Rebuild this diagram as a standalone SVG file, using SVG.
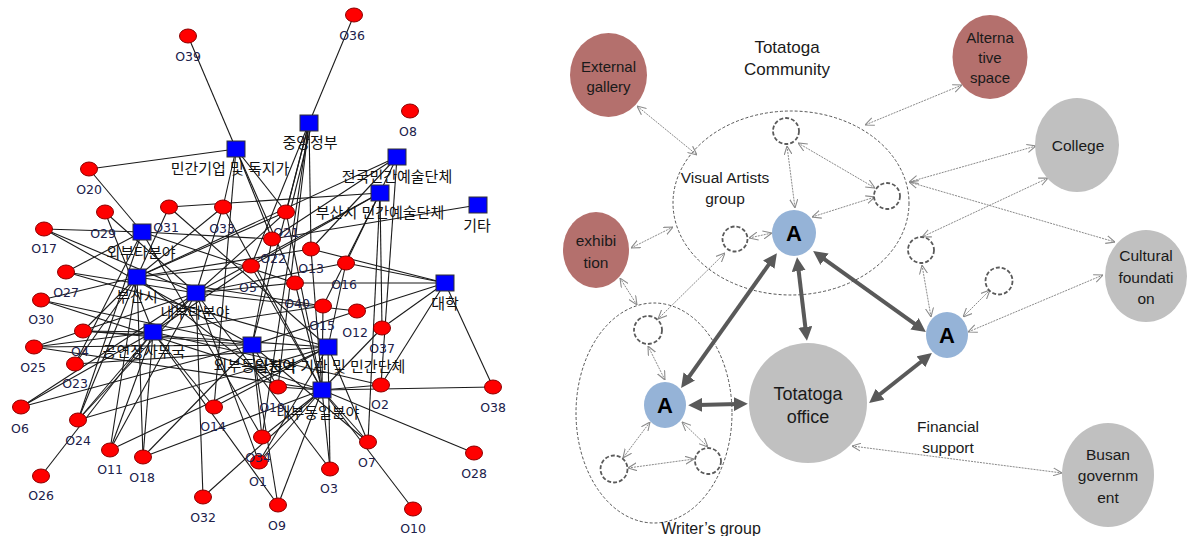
<svg xmlns="http://www.w3.org/2000/svg" width="1188" height="536" viewBox="0 0 1188 536">
<style>
.e{stroke:#1a1a1a;stroke-width:1.1;fill:none}
.rc{fill:#ff0000;stroke:#8b0000;stroke-width:1}
.sq{fill:#0000ff;stroke:#333;stroke-width:1}
.ol{font-family:"DejaVu Sans",sans-serif;font-size:12.5px;fill:#20204a;text-anchor:middle}
.kl{font-family:"Liberation Sans","Noto Sans CJK KR",sans-serif;font-size:15px;fill:#111;text-anchor:middle}
.t{font-family:"Liberation Sans",sans-serif;fill:#1a1a1a;text-anchor:middle}
.thin{stroke:#8a8a8a;stroke-width:1;stroke-dasharray:2 1;fill:none;marker-start:url(#ao);marker-end:url(#ao)}
.thick{stroke:#595959;stroke-width:4;fill:none;marker-start:url(#af);marker-end:url(#af)}
.grp{fill:none;stroke:#555;stroke-width:1;stroke-dasharray:3 2}
.sm{fill:#fff;stroke:#5a5a5a;stroke-width:1.8;stroke-dasharray:4 2}
.ext{fill:#b4706d}
.gry{fill:#c0c0c0}
.a{fill:#95b3d7}
.al{font-family:"Liberation Sans",sans-serif;font-weight:900;font-size:22px;fill:#000;text-anchor:middle}
</style>
<defs>
<marker id="ao" viewBox="0 0 10 10" refX="10" refY="5" markerWidth="9" markerHeight="9" markerUnits="userSpaceOnUse" orient="auto-start-reverse"><path d="M0,0.5 L10,5 L0,9.5" fill="none" stroke="#8a8a8a" stroke-width="1.2"/></marker>
<marker id="af" viewBox="0 0 10 10" refX="3" refY="5" markerWidth="14" markerHeight="14" markerUnits="userSpaceOnUse" orient="auto-start-reverse"><path d="M0,0 L10,5 L0,10 z" fill="#595959"/></marker>
</defs>
<rect width="1188" height="536" fill="#fff"/>

<g id="left-edges">
<line class="e" x1="188" y1="36" x2="236" y2="149"/>
<line class="e" x1="354" y1="15" x2="309" y2="123"/>
<line class="e" x1="89" y1="169" x2="236" y2="149"/>
<line class="e" x1="89" y1="169" x2="142" y2="232"/>
<line class="e" x1="105" y1="212" x2="196" y2="293"/>
<line class="e" x1="105" y1="212" x2="153" y2="332"/>
<line class="e" x1="44" y1="229" x2="142" y2="232"/>
<line class="e" x1="44" y1="229" x2="196" y2="293"/>
<line class="e" x1="44" y1="229" x2="252" y2="345"/>
<line class="e" x1="169" y1="207" x2="137" y2="277"/>
<line class="e" x1="169" y1="207" x2="328" y2="347"/>
<line class="e" x1="169" y1="207" x2="380" y2="193"/>
<line class="e" x1="223" y1="207" x2="236" y2="149"/>
<line class="e" x1="223" y1="207" x2="196" y2="293"/>
<line class="e" x1="223" y1="207" x2="322" y2="390"/>
<line class="e" x1="223" y1="207" x2="137" y2="277"/>
<line class="e" x1="286" y1="212" x2="236" y2="149"/>
<line class="e" x1="286" y1="212" x2="309" y2="123"/>
<line class="e" x1="290" y1="212" x2="312" y2="123"/>
<line class="e" x1="286" y1="212" x2="137" y2="277"/>
<line class="e" x1="286" y1="212" x2="153" y2="332"/>
<line class="e" x1="286" y1="212" x2="322" y2="390"/>
<line class="e" x1="272" y1="239" x2="236" y2="149"/>
<line class="e" x1="272" y1="239" x2="142" y2="232"/>
<line class="e" x1="272" y1="239" x2="478" y2="205"/>
<line class="e" x1="272" y1="239" x2="252" y2="345"/>
<line class="e" x1="272" y1="239" x2="397" y2="157"/>
<line class="e" x1="311" y1="249" x2="309" y2="123"/>
<line class="e" x1="311" y1="249" x2="445" y2="283"/>
<line class="e" x1="311" y1="249" x2="137" y2="277"/>
<line class="e" x1="311" y1="249" x2="322" y2="390"/>
<line class="e" x1="311" y1="249" x2="397" y2="157"/>
<line class="e" x1="346" y1="263" x2="397" y2="157"/>
<line class="e" x1="346" y1="263" x2="445" y2="283"/>
<line class="e" x1="346" y1="263" x2="196" y2="293"/>
<line class="e" x1="346" y1="263" x2="328" y2="347"/>
<line class="e" x1="251" y1="266" x2="309" y2="123"/>
<line class="e" x1="251" y1="266" x2="380" y2="193"/>
<line class="e" x1="251" y1="266" x2="137" y2="277"/>
<line class="e" x1="251" y1="266" x2="153" y2="332"/>
<line class="e" x1="251" y1="266" x2="322" y2="390"/>
<line class="e" x1="295" y1="283" x2="445" y2="283"/>
<line class="e" x1="295" y1="283" x2="142" y2="232"/>
<line class="e" x1="295" y1="283" x2="196" y2="293"/>
<line class="e" x1="295" y1="283" x2="322" y2="390"/>
<line class="e" x1="295" y1="283" x2="236" y2="149"/>
<line class="e" x1="323" y1="306" x2="380" y2="193"/>
<line class="e" x1="323" y1="306" x2="153" y2="332"/>
<line class="e" x1="323" y1="306" x2="322" y2="390"/>
<line class="e" x1="323" y1="306" x2="137" y2="277"/>
<line class="e" x1="357" y1="311" x2="445" y2="283"/>
<line class="e" x1="357" y1="311" x2="196" y2="293"/>
<line class="e" x1="357" y1="311" x2="252" y2="345"/>
<line class="e" x1="382" y1="328" x2="445" y2="283"/>
<line class="e" x1="382" y1="328" x2="322" y2="390"/>
<line class="e" x1="382" y1="328" x2="380" y2="193"/>
<line class="e" x1="66" y1="272" x2="142" y2="232"/>
<line class="e" x1="66" y1="272" x2="196" y2="293"/>
<line class="e" x1="66" y1="272" x2="328" y2="347"/>
<line class="e" x1="41" y1="300" x2="137" y2="277"/>
<line class="e" x1="41" y1="300" x2="252" y2="345"/>
<line class="e" x1="41" y1="300" x2="322" y2="390"/>
<line class="e" x1="83" y1="331" x2="153" y2="332"/>
<line class="e" x1="83" y1="331" x2="252" y2="345"/>
<line class="e" x1="83" y1="331" x2="137" y2="277"/>
<line class="e" x1="83" y1="331" x2="328" y2="347"/>
<line class="e" x1="34" y1="347" x2="153" y2="332"/>
<line class="e" x1="34" y1="347" x2="252" y2="345"/>
<line class="e" x1="34" y1="347" x2="322" y2="390"/>
<line class="e" x1="34" y1="347" x2="196" y2="293"/>
<line class="e" x1="75" y1="364" x2="137" y2="277"/>
<line class="e" x1="75" y1="364" x2="142" y2="232"/>
<line class="e" x1="75" y1="364" x2="328" y2="347"/>
<line class="e" x1="21" y1="407" x2="153" y2="332"/>
<line class="e" x1="21" y1="407" x2="196" y2="293"/>
<line class="e" x1="21" y1="407" x2="252" y2="345"/>
<line class="e" x1="78" y1="420" x2="137" y2="277"/>
<line class="e" x1="78" y1="420" x2="153" y2="332"/>
<line class="e" x1="78" y1="420" x2="142" y2="232"/>
<line class="e" x1="78" y1="420" x2="328" y2="347"/>
<line class="e" x1="78" y1="420" x2="196" y2="293"/>
<line class="e" x1="41" y1="476" x2="153" y2="332"/>
<line class="e" x1="110" y1="450" x2="137" y2="277"/>
<line class="e" x1="110" y1="450" x2="196" y2="293"/>
<line class="e" x1="110" y1="450" x2="328" y2="347"/>
<line class="e" x1="110" y1="450" x2="153" y2="332"/>
<line class="e" x1="143" y1="457" x2="137" y2="277"/>
<line class="e" x1="143" y1="457" x2="153" y2="332"/>
<line class="e" x1="143" y1="457" x2="322" y2="390"/>
<line class="e" x1="143" y1="457" x2="252" y2="345"/>
<line class="e" x1="203" y1="497" x2="196" y2="293"/>
<line class="e" x1="203" y1="497" x2="322" y2="390"/>
<line class="e" x1="214" y1="407" x2="153" y2="332"/>
<line class="e" x1="214" y1="407" x2="328" y2="347"/>
<line class="e" x1="214" y1="407" x2="236" y2="149"/>
<line class="e" x1="278" y1="387" x2="322" y2="390"/>
<line class="e" x1="278" y1="387" x2="252" y2="345"/>
<line class="e" x1="278" y1="387" x2="309" y2="123"/>
<line class="e" x1="278" y1="387" x2="137" y2="277"/>
<line class="e" x1="381" y1="385" x2="322" y2="390"/>
<line class="e" x1="381" y1="385" x2="445" y2="283"/>
<line class="e" x1="381" y1="385" x2="397" y2="157"/>
<line class="e" x1="381" y1="385" x2="153" y2="332"/>
<line class="e" x1="262" y1="437" x2="252" y2="345"/>
<line class="e" x1="262" y1="437" x2="322" y2="390"/>
<line class="e" x1="262" y1="437" x2="142" y2="232"/>
<line class="e" x1="262" y1="437" x2="309" y2="123"/>
<line class="e" x1="259" y1="462" x2="196" y2="293"/>
<line class="e" x1="259" y1="462" x2="322" y2="390"/>
<line class="e" x1="259" y1="462" x2="328" y2="347"/>
<line class="e" x1="278" y1="505" x2="322" y2="390"/>
<line class="e" x1="278" y1="505" x2="153" y2="332"/>
<line class="e" x1="278" y1="505" x2="252" y2="345"/>
<line class="e" x1="330" y1="469" x2="322" y2="390"/>
<line class="e" x1="330" y1="469" x2="328" y2="347"/>
<line class="e" x1="330" y1="469" x2="196" y2="293"/>
<line class="e" x1="368" y1="442" x2="322" y2="390"/>
<line class="e" x1="368" y1="442" x2="328" y2="347"/>
<line class="e" x1="368" y1="442" x2="252" y2="345"/>
<line class="e" x1="368" y1="442" x2="380" y2="193"/>
<line class="e" x1="413" y1="509" x2="322" y2="390"/>
<line class="e" x1="474" y1="453" x2="322" y2="390"/>
<line class="e" x1="493" y1="387" x2="322" y2="390"/>
<line class="e" x1="493" y1="387" x2="445" y2="283"/>
<line class="e" x1="397" y1="157" x2="137" y2="277"/>
<line class="e" x1="309" y1="123" x2="252" y2="345"/>
<line class="e" x1="380" y1="193" x2="196" y2="293"/>
</g>

<g id="left-squares">
<g id="s1"><rect class="sq" x="227" y="141" width="18" height="16"/><text class="kl" x="230" y="174">민간기업 및 독지가</text></g>
<g id="s2"><rect class="sq" x="300" y="115" width="18" height="16"/><text class="kl" x="310" y="148">중앙정부</text></g>
<g id="s3"><rect class="sq" x="388" y="149" width="18" height="16"/><text class="kl" x="397" y="182">전국민간예술단체</text></g>
<g id="s4"><rect class="sq" x="371" y="185" width="18" height="16"/><text class="kl" x="380" y="218">부산시 민간예술단체</text></g>
<g id="s5"><rect class="sq" x="469" y="197" width="18" height="16"/><text class="kl" x="477" y="231">기타</text></g>
<g id="s6"><rect class="sq" x="436" y="275" width="18" height="16"/><text class="kl" x="445" y="309">대학</text></g>
<g id="s7"><rect class="sq" x="133" y="224" width="18" height="16"/><text class="kl" x="141" y="258">외부타분야</text></g>
<g id="s8"><rect class="sq" x="128" y="269" width="18" height="16"/><text class="kl" x="137" y="302">부산시</text></g>
<g id="s9"><rect class="sq" x="187" y="285" width="18" height="16"/><text class="kl" x="195" y="318">내부타분야</text></g>
<g id="s10"><rect class="sq" x="144" y="324" width="18" height="16"/><text class="kl" x="144" y="357">공연장사무국</text></g>
<g id="s11"><rect class="sq" x="243" y="337" width="18" height="16"/><text class="kl" x="255" y="371">외부동일분야</text></g>
<g id="s12"><rect class="sq" x="319" y="339" width="18" height="16"/><text class="kl" x="330" y="372">타지역 기관 및 민간단체</text></g>
<g id="s13"><rect class="sq" x="313" y="382" width="18" height="16"/><text class="kl" x="318" y="418">내부동일분야</text></g>
</g>

<g id="left-circles">
<g id="o39"><ellipse class="rc" cx="188" cy="36" rx="8.5" ry="7"/><text class="ol" x="188" y="61">O39</text></g>
<g id="o36"><ellipse class="rc" cx="354" cy="15" rx="8.5" ry="7"/><text class="ol" x="352" y="40">O36</text></g>
<g id="o8"><ellipse class="rc" cx="410" cy="111" rx="8.5" ry="7"/><text class="ol" x="408" y="136">O8</text></g>
<g id="o20"><ellipse class="rc" cx="89" cy="169" rx="8.5" ry="7"/><text class="ol" x="89" y="194">O20</text></g>
<g id="o29"><ellipse class="rc" cx="105" cy="212" rx="8.5" ry="7"/><text class="ol" x="103" y="238">O29</text></g>
<g id="o17"><ellipse class="rc" cx="44" cy="229" rx="8.5" ry="7"/><text class="ol" x="44" y="253">O17</text></g>
<g id="o31"><ellipse class="rc" cx="169" cy="207" rx="8.5" ry="7"/><text class="ol" x="166" y="232">O31</text></g>
<g id="o33"><ellipse class="rc" cx="223" cy="207" rx="8.5" ry="7"/><text class="ol" x="222" y="233">O33</text></g>
<g id="o21"><ellipse class="rc" cx="286" cy="212" rx="8.5" ry="7"/><text class="ol" x="286" y="237">O21</text></g>
<g id="o22"><ellipse class="rc" cx="272" cy="239" rx="8.5" ry="7"/><text class="ol" x="273" y="263">O22</text></g>
<g id="o13"><ellipse class="rc" cx="311" cy="249" rx="8.5" ry="7"/><text class="ol" x="311" y="273">O13</text></g>
<g id="o16"><ellipse class="rc" cx="346" cy="263" rx="8.5" ry="7"/><text class="ol" x="344" y="289">O16</text></g>
<g id="o5"><ellipse class="rc" cx="251" cy="266" rx="8.5" ry="7"/><text class="ol" x="248" y="292">O5</text></g>
<g id="o40"><ellipse class="rc" cx="295" cy="283" rx="8.5" ry="7"/><text class="ol" x="297" y="308">O40</text></g>
<g id="o15"><ellipse class="rc" cx="323" cy="306" rx="8.5" ry="7"/><text class="ol" x="322" y="330">O15</text></g>
<g id="o12"><ellipse class="rc" cx="357" cy="311" rx="8.5" ry="7"/><text class="ol" x="355" y="337">O12</text></g>
<g id="o37"><ellipse class="rc" cx="382" cy="328" rx="8.5" ry="7"/><text class="ol" x="382" y="353">O37</text></g>
<g id="o27"><ellipse class="rc" cx="66" cy="272" rx="8.5" ry="7"/><text class="ol" x="66" y="297">O27</text></g>
<g id="o30"><ellipse class="rc" cx="41" cy="300" rx="8.5" ry="7"/><text class="ol" x="41" y="324">O30</text></g>
<g id="o4"><ellipse class="rc" cx="83" cy="331" rx="8.5" ry="7"/><text class="ol" x="80" y="356">O4</text></g>
<g id="o25"><ellipse class="rc" cx="34" cy="347" rx="8.5" ry="7"/><text class="ol" x="33" y="372">O25</text></g>
<g id="o23"><ellipse class="rc" cx="75" cy="364" rx="8.5" ry="7"/><text class="ol" x="75" y="388">O23</text></g>
<g id="o6"><ellipse class="rc" cx="21" cy="407" rx="8.5" ry="7"/><text class="ol" x="20" y="433">O6</text></g>
<g id="o24"><ellipse class="rc" cx="78" cy="420" rx="8.5" ry="7"/><text class="ol" x="78" y="445">O24</text></g>
<g id="o26"><ellipse class="rc" cx="41" cy="476" rx="8.5" ry="7"/><text class="ol" x="41" y="500">O26</text></g>
<g id="o11"><ellipse class="rc" cx="110" cy="450" rx="8.5" ry="7"/><text class="ol" x="110" y="474">O11</text></g>
<g id="o18"><ellipse class="rc" cx="143" cy="457" rx="8.5" ry="7"/><text class="ol" x="142" y="482">O18</text></g>
<g id="o32"><ellipse class="rc" cx="203" cy="497" rx="8.5" ry="7"/><text class="ol" x="203" y="522">O32</text></g>
<g id="o14"><ellipse class="rc" cx="214" cy="407" rx="8.5" ry="7"/><text class="ol" x="213" y="431">O14</text></g>
<g id="o19"><ellipse class="rc" cx="278" cy="387" rx="8.5" ry="7"/><text class="ol" x="272" y="412">O19</text></g>
<g id="o2"><ellipse class="rc" cx="381" cy="385" rx="8.5" ry="7"/><text class="ol" x="380" y="409">O2</text></g>
<g id="o1"><ellipse class="rc" cx="259" cy="462" rx="8.5" ry="7"/><text class="ol" x="258" y="486">O1</text></g>
<g id="o34"><ellipse class="rc" cx="262" cy="437" rx="8.5" ry="7"/><text class="ol" x="258" y="462">O34</text></g>
<g id="o9"><ellipse class="rc" cx="278" cy="505" rx="8.5" ry="7"/><text class="ol" x="277" y="530">O9</text></g>
<g id="o3"><ellipse class="rc" cx="330" cy="469" rx="8.5" ry="7"/><text class="ol" x="329" y="493">O3</text></g>
<g id="o7"><ellipse class="rc" cx="368" cy="442" rx="8.5" ry="7"/><text class="ol" x="367" y="467">O7</text></g>
<g id="o10"><ellipse class="rc" cx="413" cy="509" rx="8.5" ry="7"/><text class="ol" x="413" y="533">O10</text></g>
<g id="o28"><ellipse class="rc" cx="474" cy="453" rx="8.5" ry="7"/><text class="ol" x="474" y="478">O28</text></g>
<g id="o38"><ellipse class="rc" cx="493" cy="387" rx="8.5" ry="7"/><text class="ol" x="493" y="412">O38</text></g>
</g>

<g id="groups">
<ellipse id="visual-artists-group" class="grp" cx="791" cy="203" rx="118" ry="92"/>
<ellipse id="writers-group" class="grp" cx="654" cy="413" rx="78" ry="110"/>
</g>

<g id="right-connectors">
<line class="thin" x1="637" y1="106" x2="697" y2="155"/>
<line class="thin" x1="631" y1="248" x2="673" y2="227"/>
<line class="thin" x1="620" y1="278" x2="637" y2="305"/>
<line class="thin" x1="962" y1="85" x2="865" y2="125"/>
<line class="thin" x1="1036" y1="146" x2="909" y2="182"/>
<line class="thin" x1="909" y1="182" x2="1115" y2="242"/>
<line class="thin" x1="1048" y1="178" x2="922" y2="237"/>
<line class="thin" x1="1103" y1="275" x2="968" y2="332"/>
<line class="thin" x1="990" y1="290" x2="963" y2="317"/>
<line class="thin" x1="922" y1="265" x2="931" y2="317"/>
<line class="thin" x1="852" y1="446" x2="1062" y2="473"/>
<line class="thin" x1="787" y1="146" x2="795" y2="208"/>
<line class="thin" x1="798" y1="143" x2="875" y2="188"/>
<line class="thin" x1="812" y1="217" x2="875" y2="197"/>
<line class="thin" x1="749" y1="238" x2="772" y2="233"/>
<line class="thin" x1="725" y1="253" x2="658" y2="319"/>
<line class="thin" x1="648" y1="346" x2="665" y2="380"/>
<line class="thin" x1="650" y1="422" x2="623" y2="458"/>
<line class="thin" x1="682" y1="422" x2="708" y2="447"/>
<line class="thin" x1="628" y1="468" x2="694" y2="459"/>
<line class="thick" x1="798.2" y1="266.9" x2="805.8" y2="331.1"/>
<line class="thick" x1="771.2" y1="261.2" x2="686.8" y2="379.9"/>
<line class="thick" x1="821.1" y1="256.8" x2="917.9" y2="326.2"/>
<line class="thick" x1="698" y1="405" x2="738" y2="404"/>
<line class="thick" x1="876.8" y1="396.8" x2="924.2" y2="359.2"/>
</g>

<g id="right-nodes">
<g id="external-gallery"><ellipse class="ext" cx="608.5" cy="75" rx="38.5" ry="42"/><text class="t" x="608.5" y="72" font-size="15">External</text><text class="t" x="608.5" y="92" font-size="15">gallery</text></g>
<g id="alternative-space"><ellipse class="ext" cx="990" cy="57" rx="37.5" ry="42"/><text class="t" x="990" y="43" font-size="15">Alterna</text><text class="t" x="990" y="63" font-size="15">tive</text><text class="t" x="990" y="83" font-size="15">space</text></g>
<g id="college"><ellipse class="gry" cx="1077" cy="145" rx="42" ry="47"/><text class="t" x="1078" y="151" font-size="15.5">College</text></g>
<g id="cultural-foundation"><ellipse class="gry" cx="1146" cy="276" rx="41" ry="46"/><text class="t" x="1146" y="261" font-size="15.5">Cultural</text><text class="t" x="1146" y="283" font-size="15.5">foundati</text><text class="t" x="1146" y="304" font-size="15.5">on</text></g>
<g id="busan-government"><ellipse class="gry" cx="1108" cy="475" rx="46" ry="52"/><text class="t" x="1108" y="460" font-size="15.5">Busan</text><text class="t" x="1108" y="481" font-size="15.5">governm</text><text class="t" x="1108" y="503" font-size="15.5">ent</text></g>
<g id="exhibition"><ellipse class="ext" cx="596" cy="250" rx="33" ry="38"/><text class="t" x="596" y="246" font-size="15.5">exhibi</text><text class="t" x="596" y="268" font-size="15.5">tion</text></g>
<g id="totatoga-office"><ellipse class="gry" cx="808" cy="403" rx="59" ry="60"/><text class="t" x="808" y="400" font-size="18">Totatoga</text><text class="t" x="808" y="423" font-size="18">office</text></g>
<g id="a-visual"><ellipse class="a" cx="794" cy="233" rx="22" ry="23"/><text class="al" x="794" y="241">A</text></g>
<g id="a-writer"><ellipse class="a" cx="665" cy="405" rx="21" ry="23"/><text class="al" x="665" y="413">A</text></g>
<g id="a-right"><ellipse class="a" cx="947" cy="335" rx="21" ry="23"/><text class="al" x="947" y="343">A</text></g>
<g id="c1"><circle class="sm" cx="786" cy="131" r="13"/></g>
<g id="c2"><circle class="sm" cx="735" cy="239" r="12.5"/></g>
<g id="c3"><circle class="sm" cx="887" cy="196" r="13"/></g>
<g id="c4"><circle class="sm" cx="921" cy="250" r="13"/></g>
<g id="c5"><circle class="sm" cx="999" cy="281" r="13.5"/></g>
<g id="c6"><circle class="sm" cx="648" cy="330" r="14"/></g>
<g id="c7"><circle class="sm" cx="614" cy="469" r="13.5"/></g>
<g id="c8"><circle class="sm" cx="708" cy="461" r="13"/></g>
</g>

<g id="right-labels">
<text class="t" x="787" y="53" font-size="17">Totatoga</text>
<text class="t" x="787" y="75" font-size="17">Community</text>
<text class="t" x="725" y="183" font-size="15.5">Visual Artists</text>
<text class="t" x="725" y="204" font-size="15.5">group</text>
<text class="t" x="711" y="534" font-size="16">Writer’s group</text>
<text class="t" x="948" y="432" font-size="15.5">Financial</text>
<text class="t" x="948" y="453" font-size="15.5">support</text>
</g>
</svg>
